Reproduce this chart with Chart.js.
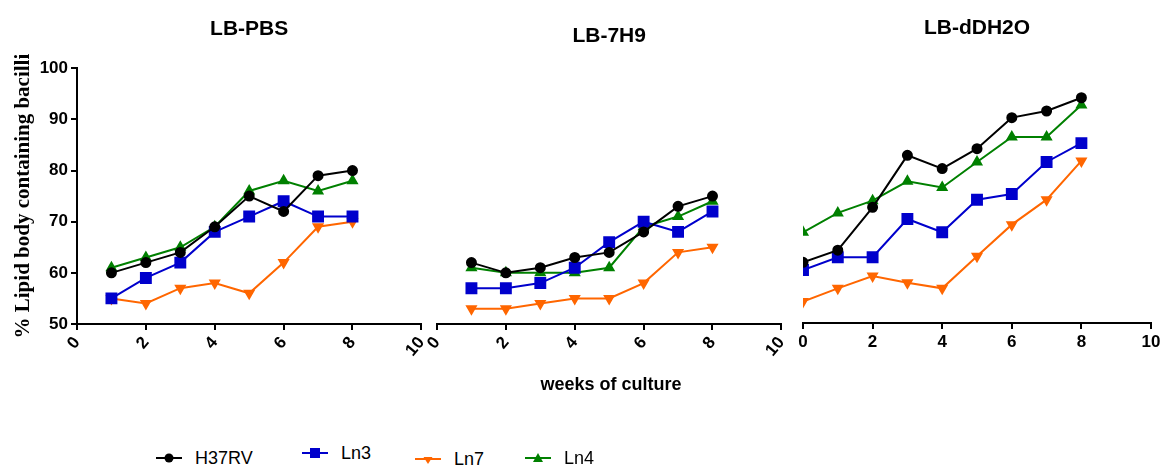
<!DOCTYPE html>
<html>
<head>
<meta charset="utf-8">
<script src="https://cdn.jsdelivr.net/npm/chart.js"></script>
<style>
  body { margin: 0; background: #fff; }
  #wrap { position: relative; width: 1164px; height: 467px; overflow: hidden; font-family: "Liberation Sans", Arial, sans-serif; }
  canvas { position: absolute; top: 0; }
  #xtitle { position: absolute; left: 611px; top: 373px; transform: translateX(-50%); font-weight: bold; font-size: 18px; line-height: 22px; white-space: nowrap; }
  .leg { position: absolute; display: flex; align-items: center; font-size: 18px; line-height: 20px; white-space: nowrap; }
  .leg svg { margin-right: 13px; }
</style>
</head>
<body>
<div id="wrap">
  <canvas id="pbs" width="440" height="374" style="left:0px"></canvas>
  <canvas id="h9" width="380" height="374" style="left:420px"></canvas>
  <canvas id="ddh" width="374" height="373" style="left:790px"></canvas>
  <div id="xtitle">weeks of culture</div>
</div>
<script>
// series
const seriesNames = ["H37RV", "Ln3", "Ln7", "Ln4"];
const seriesColors = ["#000000", "#0000cc", "#ff6600", "#008000"];
const seriesStyles = ["circle", "rect", "triangle", "triangle"];
const seriesRotation = [0, 0, 180, 0];
const seriesRadius = [4.5, 7, 5, 5];

// weeks
const weeksPBS = [1, 2, 3, 4, 5, 6, 7, 8];
const weeks7H9 = [1, 2, 3, 4, 5, 6, 7, 8];
const weeksDDH = [0, 1, 2, 3, 4, 5, 6, 7, 8];

// LB-PBS
const pbsH37RV = [60, 62, 64, 69, 75, 72, 79, 80];
const pbsLn3   = [55, 59, 62, 68, 71, 74, 71, 71];
const pbsLn7   = [55, 54, 57, 58, 56, 62, 69, 70];
const pbsLn4   = [61, 63, 65, 69, 76, 78, 76, 78];

// LB-7H9
const h9H37RV = [62, 60, 61, 63, 64, 68, 73, 75];
const h9Ln3   = [57, 57, 58, 61, 66, 70, 68, 72];
const h9Ln7   = [53, 53, 54, 55, 55, 58, 64, 65];
const h9Ln4   = [61, 60, 60, 60, 61, 69, 71, 74];

// LB-dDH2O
const ddhH37RV = [61.9, 64.3, 72.7, 82.9, 80.3, 84.2, 90.3, 91.6, 94.2];
const ddhLn3   = [60.4, 62.9, 62.9, 70.4, 67.8, 74.2, 75.3, 81.6, 85.3];
const ddhLn7   = [54.2, 56.8, 59.2, 57.9, 56.8, 63.1, 69.3, 74.2, 81.8];
const ddhLn4   = [67.8, 71.6, 74.0, 77.8, 76.6, 81.6, 86.5, 86.5, 92.8];

const yMin = 50, yMax = 100;
const xMin = 0, xMax = 10, xStep = 2;

const sansFont = '"Liberation Sans", Arial, sans-serif';
const serifFont = '"Liberation Serif", "Times New Roman", serif';

function makeDatasets(weeks, lists) {
  return lists.map((vals, i) => ({
    label: seriesNames[i],
    data: weeks.map((w, j) => ({ x: w, y: vals[j] })),
    borderColor: seriesColors[i],
    backgroundColor: seriesColors[i],
    pointBackgroundColor: seriesColors[i],
    pointBorderColor: seriesColors[i],
    pointStyle: seriesStyles[i],
    pointRotation: seriesRotation[i],
    pointRadius: seriesRadius[i],
    borderWidth: 2,
    tension: 0
  }));
}

function makeChart(id, title, titlePad, weeks, lists, opts) {
  const axisGrid = { display: true, drawOnChartArea: false, drawTicks: true, tickLength: 6, color: '#000', lineWidth: 2 };
  const axisBorder = { display: true, color: '#000', width: 2 };
  return new Chart(document.getElementById(id), {
    type: 'line',
    data: { datasets: makeDatasets(weeks, lists) },
    options: {
      responsive: false,
      animation: false,
      layout: { padding: opts.padding },
      plugins: {
        legend: { display: false },
        tooltip: { enabled: false },
        title: {
          display: true,
          text: title,
          fullSize: false,
          color: '#000',
          font: { family: sansFont, size: 21, weight: 'bold' },
          padding: titlePad
        }
      },
      scales: {
        x: {
          type: 'linear',
          min: xMin,
          max: xMax,
          grid: axisGrid,
          border: axisBorder,
          ticks: {
            stepSize: xStep,
            autoSkip: false,
            color: '#000',
            padding: 3,
            minRotation: opts.rotation,
            maxRotation: opts.rotation,
            font: { family: sansFont, size: 17, weight: 'bold' }
          },
          afterFit: (s) => { s.height = 50; }
        },
        y: {
          display: opts.showY,
          min: yMin,
          max: yMax,
          grid: axisGrid,
          border: axisBorder,
          ticks: {
            stepSize: 10,
            color: '#000',
            padding: 3,
            font: { family: sansFont, size: 17, weight: 'bold' }
          },
          title: {
            display: true,
            text: '% Lipid body containing bacilli',
            color: '#000',
            font: { family: serifFont, size: 21, weight: 'bold' },
            padding: { top: 11, bottom: 0 }
          },
          afterFit: (s) => { if (opts.showY) s.width = 77; }
        }
      }
    }
  });
}

makeChart('pbs', 'LB-PBS', { top: 17, bottom: 26 }, weeksPBS,
  [pbsH37RV, pbsLn3, pbsLn7, pbsLn4],
  { padding: { left: 0, right: 14, top: 0, bottom: 0 }, rotation: 50, showY: true });

makeChart('h9', 'LB-7H9', { top: 24, bottom: 19 }, weeks7H9,
  [h9H37RV, h9Ln3, h9Ln7, h9Ln4],
  { padding: { left: 17, right: 14, top: 0, bottom: 0 }, rotation: 50, showY: false });

makeChart('ddh', 'LB-dDH2O', { top: 16, bottom: 27 }, weeksDDH,
  [ddhH37RV, ddhLn3, ddhLn7, ddhLn4],
  { padding: { left: 13, right: 13, top: 0, bottom: 0 }, rotation: 0, showY: false });

// legend below the panels
const legendLeft = [156, 302, 415, 525];
const legendTop = [448, 443, 449, 448];
const wrap = document.getElementById('wrap');
seriesNames.forEach((name, i) => {
  const c = seriesColors[i];
  let mark;
  if (seriesStyles[i] === 'circle') mark = `<circle cx="13" cy="6" r="4.5" fill="${c}"/>`;
  else if (seriesStyles[i] === 'rect') mark = `<rect x="8" y="1" width="10" height="10" fill="${c}"/>`;
  else if (seriesRotation[i] === 180) mark = `<polygon points="8.5,4 17.5,4 13,11" fill="${c}"/>`;
  else mark = `<polygon points="8,10 18,10 13,1" fill="${c}"/>`;
  const el = document.createElement('div');
  el.className = 'leg';
  el.style.left = legendLeft[i] + 'px';
  el.style.top = legendTop[i] + 'px';
  el.innerHTML = `<svg width="26" height="12"><line x1="0" y1="6" x2="26" y2="6" stroke="${c}" stroke-width="2"/>${mark}</svg><span>${name}</span>`;
  wrap.appendChild(el);
});
</script>
</body>
</html>
